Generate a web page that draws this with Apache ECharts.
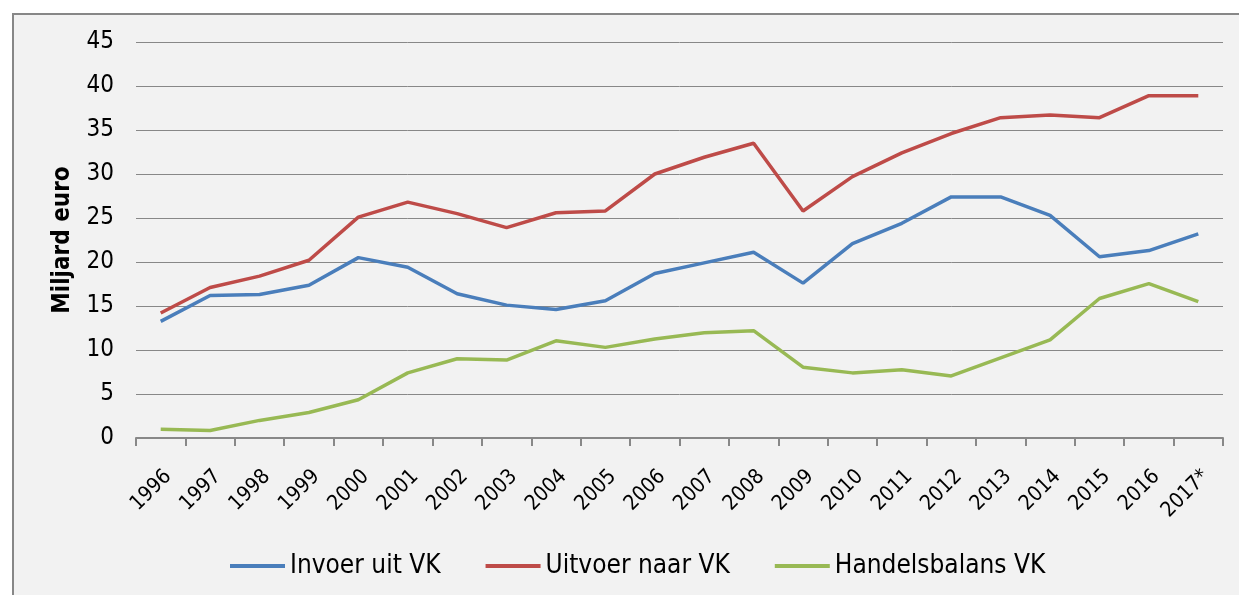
<!DOCTYPE html>
<html>
<head>
<meta charset="utf-8">
<script src="https://cdn.jsdelivr.net/npm/echarts@6/dist/echarts.min.js"></script>
<style>
  html, body { margin: 0; padding: 0; background: #fff; }
  #wrap { position: relative; width: 1239px; height: 595px; overflow: hidden; }
  #frame { position: absolute; left: 12px; top: 13px; width: 1300px; height: 700px;
           background: #f2f2f2; border: 2px solid #878787; }
  #main { position: absolute; left: 0; top: 0; width: 1239px; height: 595px; }
</style>
</head>
<body>
<div id="wrap">
  <div id="frame"></div>
  <div id="main"></div>
</div>
<script>
const years = ['1996', '1997', '1998', '1999', '2000', '2001', '2002', '2003', '2004', '2005', '2006',
  '2007', '2008', '2009', '2010', '2011', '2012', '2013', '2014', '2015', '2016', '2017*']
const invoer = [13.25, 16.2, 16.3, 17.35, 20.5, 19.4, 16.4, 15.1, 14.6, 15.6, 18.7,
  19.9, 21.1, 17.6, 22.1, 24.4, 27.4, 27.4, 25.3, 20.6, 21.3, 23.2]
const uitvoer = [14.2, 17.1, 18.4, 20.2, 25.1, 26.8, 25.5, 23.9, 25.6, 25.8, 30.0,
  31.9, 33.5, 25.8, 29.7, 32.4, 34.6, 36.4, 36.7, 36.4, 38.9, 38.9]
const handelsbalans = [1.0, 0.85, 2.0, 2.9, 4.35, 7.4, 9.0, 8.85, 11.05, 10.3, 11.25,
  11.95, 12.2, 8.05, 7.4, 7.75, 7.05, 9.1, 11.15, 15.85, 17.55, 15.5]

const fontName = 'DejaVu Sans Condensed, DejaVu Sans, sans-serif'

let myChart = echarts.init(document.getElementById('main'))
let option = {
  backgroundColor: 'transparent',
  animation: false,
  color: ['#4a7ebb', '#be4b48', '#98b954'],
  grid: {
    left: 136,
    right: 16,
    top: 42,
    bottom: 157
  },
  legend: {
    top: 548,
    left: 225,
    icon: 'rect',
    itemWidth: 55,
    itemHeight: 4,
    itemGap: 45,
    textStyle: { fontFamily: fontName, fontSize: 26, color: '#000' },
    data: ['Invoer uit VK', 'Uitvoer naar VK', 'Handelsbalans VK']
  },
  xAxis: {
    type: 'category',
    boundaryGap: true,
    data: years,
    axisLine: { lineStyle: { color: '#888', width: 2 } },
    axisTick: { show: true, length: 8, lineStyle: { color: '#888', width: 2 } },
    axisLabel: {
      rotate: 45,
      margin: 28,
      interval: 0,
      verticalAlign: 'top',
      fontFamily: fontName,
      fontSize: 21,
      color: '#000'
    }
  },
  yAxis: {
    type: 'value',
    min: 0,
    max: 45,
    interval: 5,
    name: 'Miljard euro',
    nameLocation: 'middle',
    nameGap: 61,
    nameTextStyle: { fontFamily: fontName, fontSize: 24, fontWeight: 'bold', color: '#000' },
    axisLine: { show: false },
    axisTick: { show: false },
    axisLabel: { margin: 22, fontFamily: fontName, fontSize: 24, color: '#000' },
    splitLine: { lineStyle: { color: '#888', width: 1 } }
  },
  series: [
    {
      name: 'Invoer uit VK',
      type: 'line',
      showSymbol: false,
      lineStyle: { width: 3.5 },
      data: invoer
    },
    {
      name: 'Uitvoer naar VK',
      type: 'line',
      showSymbol: false,
      lineStyle: { width: 3.5 },
      data: uitvoer
    },
    {
      name: 'Handelsbalans VK',
      type: 'line',
      showSymbol: false,
      lineStyle: { width: 3.5 },
      data: handelsbalans
    }
  ]
}
option && myChart.setOption(option)
</script>
</body>
</html>
